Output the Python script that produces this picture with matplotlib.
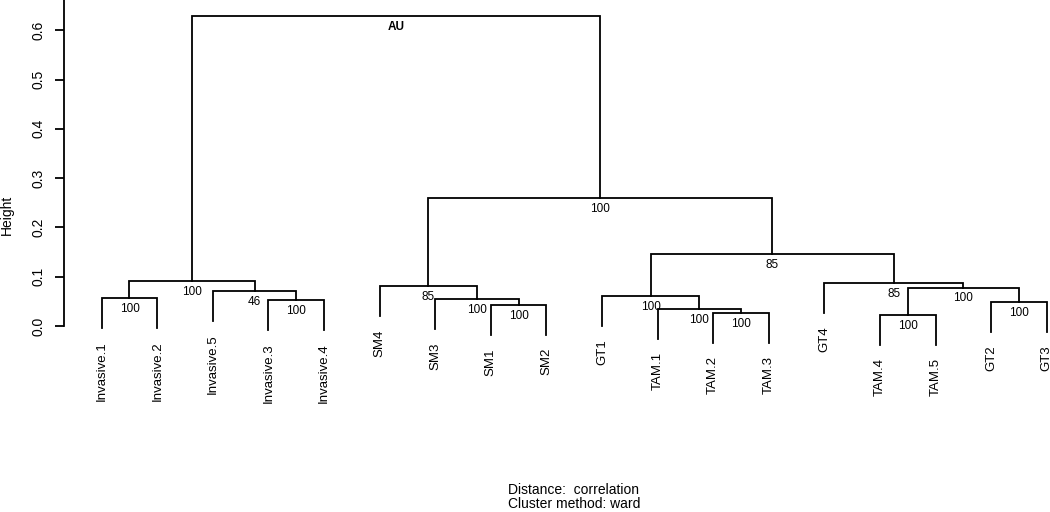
import numpy as np
import matplotlib
matplotlib.use("Agg")
import matplotlib.pyplot as plt

plt.rcParams['font.family'] = ['Liberation Sans', 'DejaVu Sans']

# leaf order as drawn
leaves = ["Invasive.1", "Invasive.2", "Invasive.5", "Invasive.3", "Invasive.4",
          "SM4", "SM3", "SM1", "SM2",
          "GT1", "TAM.1", "TAM.2", "TAM.3",
          "GT4", "TAM.4", "TAM.5", "GT2", "GT3"]

# merges: children are leaf names or "m<k>" (k = earlier merge, 1-based)
merge_a = ["TAM.4", "TAM.2", "TAM.1", "SM1", "GT2", "Invasive.3", "SM3", "Invasive.1",
           "GT1", "Invasive.5", "m1", "SM4", "GT4", "m8", "m9", "m12", "m14"]
merge_b = ["TAM.5", "TAM.3", "m2", "SM2", "GT3", "Invasive.4", "m4", "Invasive.2",
           "m3", "m6", "m5", "m7", "m11", "m10", "m13", "m15", "m16"]
heights = [0.022, 0.026, 0.0345, 0.0426, 0.048, 0.053, 0.054, 0.057,
           0.061, 0.070, 0.078, 0.081, 0.087, 0.092, 0.146, 0.260, 0.629]
bp_labels = ["100", "100", "100", "100", "100", "100", "100", "100",
             "100", "46", "100", "85", "85", "100", "85", "100", "AU"]

hang = 0.1 * (max(heights) - min(heights))

fig = plt.figure(figsize=(10.5, 5.12), dpi=100)
W, H = 1050, 512
# axes box in pixels: x 64.3..1050, y 0..350
ax = fig.add_axes([64.3 / W, (H - 350) / H, (W - 64.3) / W, 350 / H])

px_per_leaf = 55.59
x0 = 1 - (101.7 - 64.3) / px_per_leaf
x1 = 18 + (1050 - 1046.7) / px_per_leaf
ax.set_xlim(x0, x1)
ppu = 493.0
ax.set_ylim(-(350 - 326) / ppu, 326 / ppu)

pos = {name: i + 1 for i, name in enumerate(leaves)}
top = {}

for k in range(len(heights)):
    h = heights[k]
    xs, ys = [], []
    for c in (merge_a[k], merge_b[k]):
        if c.startswith("m"):
            xs.append(pos[c])
            ys.append(top[c])
        else:
            xs.append(pos[c])
            ys.append(h - hang)
            ax.annotate(c, (pos[c], h - hang), xytext=(0, -9.5), textcoords="offset points",
                        rotation=90, ha="center", va="top", fontsize=9.5,
                        annotation_clip=False)
    ax.plot([xs[0], xs[0], xs[1], xs[1]], [ys[0], h, h, ys[1]],
            color="black", lw=1.3, solid_joinstyle="miter", clip_on=False)
    name = "m%d" % (k + 1)
    pos[name] = (xs[0] + xs[1]) / 2
    top[name] = h
    bold = bp_labels[k] == "AU"
    ax.annotate(bp_labels[k], (pos[name], h), xytext=(0, -3.5), textcoords="offset points",
                ha="center", va="top", fontsize=8.5,
                fontweight="bold" if bold else "normal", annotation_clip=False)

for s in ["top", "right", "bottom"]:
    ax.spines[s].set_visible(False)
ax.spines["left"].set_bounds(0, ax.get_ylim()[1])
ax.spines["left"].set_linewidth(1.3)
ax.set_xticks([])
ax.set_yticks(np.arange(0, 0.61, 0.1))
ax.set_yticklabels(["0.0", "0.1", "0.2", "0.3", "0.4", "0.5", "0.6"])
ax.tick_params(axis="y", length=6.5, width=1.3, pad=7, labelsize=10)
for t in ax.get_yticklabels():
    t.set_rotation(90)
    t.set_va("center")

fig.text(7 / W, 1 - 215 / H, "Height", rotation=90, ha="center", va="center", fontsize=10)
fig.text(574 / W, 1 - 490.5 / H, "Distance:  correlation", ha="center", va="center", fontsize=10)
fig.text(574 / W, 1 - 503.5 / H, "Cluster method: ward", ha="center", va="center", fontsize=10)

fig.savefig("out.png", dpi=100)
